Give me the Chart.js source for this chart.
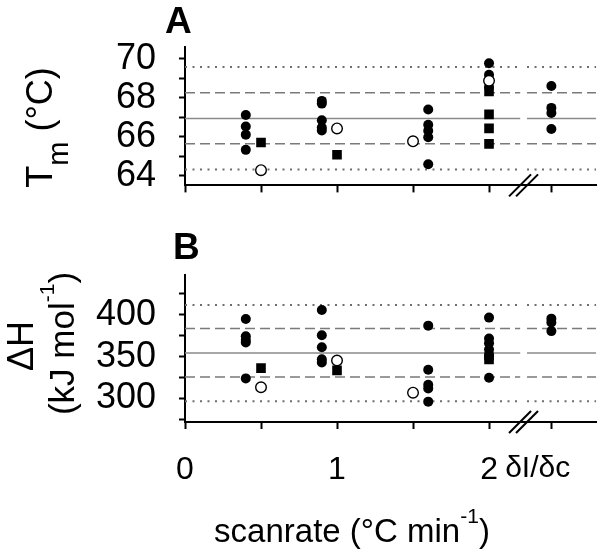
<!DOCTYPE html>
<html>
<head>
<meta charset="utf-8">
<script src="https://cdn.jsdelivr.net/npm/chart.js@4.4.1/dist/chart.umd.min.js"></script>
<style>
  html, body { margin: 0; padding: 0; background: #fff; }
  #wrap { position: relative; width: 603px; height: 549px; }
  canvas { position: absolute; left: 0; }
  #tm { top: 0; }
  #dh { top: 230px; }
</style>
</head>
<body>
<div id="wrap">
  <canvas id="tm" width="603" height="230"></canvas>
  <canvas id="dh" width="603" height="319"></canvas>
</div>
<script>
const FAM = '"Liberation Sans", Arial, Helvetica, sans-serif';

// scanrate axis: the dI/dc column sits behind the axis break
const DIDC = 2.41;
const DIDC_LABEL = 2.32;
const BREAK_AT = 2.227;
const LEFT_END = 2.205;
const RIGHT_START = 2.25;
const X_MAX = 2.705;

// panel A: Tm (°C)
const filledRateA = [0.4, 0.4, 0.4, 0.4, 0.9, 0.9, 0.9, 0.9, 0.9, 1.6, 1.6, 1.6, 1.6, 1.6, 2, 2, 2, DIDC, DIDC, DIDC, DIDC];
const filledTm    = [67.12, 66.53, 66.11, 65.33, 67.84, 67.70, 66.85, 66.47, 66.32, 67.40, 66.62, 66.31, 65.98, 64.59, 69.77, 69.18, 68.55, 68.60, 67.48, 67.22, 66.40];
const squareRateA = [0.5, 1.0, 2, 2, 2, 2];
const squareTm    = [65.71, 65.08, 68.32, 67.15, 66.43, 65.64];
const openRateA   = [0.5, 1.0, 1.5, 2];
const openTm      = [64.29, 66.43, 65.77, 68.87];
const tmRefs      = [69.58, 68.25, 66.94, 65.64, 64.33];

// panel B: dH (kJ/mol)
const filledRateB = [0.4, 0.4, 0.4, 0.4, 0.4, 0.9, 0.9, 0.9, 0.9, 0.9, 1.6, 1.6, 1.6, 1.6, 1.6, 2, 2, 2, 2, 2, 2, 2, DIDC, DIDC, DIDC];
const filledDh    = [395, 374.4, 369.9, 366.8, 324, 405.7, 375.5, 361.1, 346.9, 343.1, 387, 334.3, 316.5, 311.9, 296.2, 396.6, 371.7, 366, 358.4, 352.6, 348.5, 324.8, 395.4, 390.8, 380.5];
const squareRateB = [0.5, 1.0, 2];
const squareDh    = [336.3, 333.6, 346.5];
const openRateB   = [0.5, 1.0, 1.5];
const openDh      = [313.4, 345.4, 306.9];
const dhRefs      = [411.8, 383.5, 354.2, 325.6, 296.6];

// ticks
const xTicksA     = [0, 0.5, 1, 1.5, 2, DIDC];
const xTicksB     = [0, 0.5, 1, 1.5, 2, DIDC_LABEL, DIDC];
const xLabelsB    = ['0', '', '1', '', '2', 'δI/δc', ''];
const yTicksA     = [64, 65, 66, 67, 68, 69, 70];
const yTicksB     = [275, 300, 325, 350, 375, 400, 425];

const refStyles = [
  { dash: [2, 5.5], width: 2, color: '#6e6e6e' },
  { dash: [10, 5], width: 1.5, color: '#7a7a7a' },
  { dash: [], width: 1.5, color: '#8a8a8a' },
  { dash: [10, 5], width: 1.5, color: '#7a7a7a' },
  { dash: [2, 5.5], width: 2, color: '#6e6e6e' }
];

function pts(xs, ys) {
  return xs.map((x, i) => ({ x: x, y: ys[i] }));
}

function refDatasets(refs) {
  let out = [];
  refs.forEach((v, i) => {
    const st = refStyles[i];
    [[0, LEFT_END], [RIGHT_START, X_MAX]].forEach(seg => {
      out.push({
        data: [{ x: seg[0], y: v }, { x: seg[1], y: v }],
        showLine: true, pointRadius: 0, borderColor: st.color,
        borderWidth: st.width, borderDash: st.dash, order: 5
      });
    });
  });
  return out;
}

function markerDatasets(fx, fy, sx, sy, ox, oy) {
  return [
    { data: pts(ox, oy), pointStyle: 'circle', pointRadius: 5.3, pointBorderWidth: 1.4,
      pointBackgroundColor: '#fff', pointBorderColor: '#000', order: 1 },
    { data: pts(sx, sy), pointStyle: 'rect', pointRadius: 6.8, pointBorderWidth: 0,
      pointBackgroundColor: '#000', pointBorderColor: '#000', order: 2 },
    { data: pts(fx, fy), pointStyle: 'circle', pointRadius: 5, pointBorderWidth: 0,
      pointBackgroundColor: '#000', pointBorderColor: '#000', order: 3 }
  ];
}

function drawRich(ctx, parts, cx, cy, rotate) {
  ctx.save();
  ctx.translate(cx, cy);
  if (rotate) ctx.rotate(-Math.PI / 2);
  ctx.fillStyle = '#000';
  ctx.textBaseline = 'alphabetic';
  ctx.textAlign = 'left';
  let total = 0;
  parts.forEach(p => { ctx.font = p.font; total += ctx.measureText(p.t).width; });
  let x = -total / 2;
  parts.forEach(p => {
    ctx.font = p.font;
    ctx.fillText(p.t, x, p.dy || 0);
    x += ctx.measureText(p.t).width;
  });
  ctx.restore();
}

const decor = {
  id: 'decor',
  afterDraw(chart, args, opts) {
    const ctx = chart.ctx;
    const area = chart.chartArea;
    const cx = chart.scales.x.getPixelForValue(BREAK_AT);
    const cy = area.bottom;
    // axis break marks
    ctx.save();
    ctx.strokeStyle = '#000';
    ctx.lineWidth = 2;
    [-3.5, 3.5].forEach(off => {
      ctx.beginPath();
      ctx.moveTo(cx + off - 11, cy + 11);
      ctx.lineTo(cx + off + 11, cy - 11);
      ctx.stroke();
    });
    // panel letter
    ctx.fillStyle = '#000';
    ctx.font = 'bold 37px ' + FAM;
    ctx.textAlign = 'left';
    ctx.textBaseline = 'alphabetic';
    ctx.fillText(opts.letter, opts.letterX, opts.letterY);
    ctx.restore();
    (opts.texts || []).forEach(t => drawRich(ctx, t.parts, t.x, t.y, t.rotate));
  }
};

function makeChart(id, o) {
  return new Chart(document.getElementById(id), {
    type: 'scatter',
    data: { datasets: markerDatasets.apply(null, o.markers).concat(refDatasets(o.refs)) },
    options: {
      responsive: false,
      animation: false,
      devicePixelRatio: 1,
      layout: { padding: { top: o.padTop, left: 0, right: 0, bottom: 0 } },
      plugins: { legend: { display: false }, tooltip: { enabled: false }, decor: o.decor },
      scales: {
        x: {
          type: 'linear', min: 0, max: X_MAX,
          afterBuildTicks: s => { s.ticks = o.xTicks.map(v => ({ value: v })); },
          afterFit: s => { s.height = o.xHeight; },
          border: { display: true, color: '#000', width: 2 },
          grid: {
            drawOnChartArea: false, drawTicks: true, tickLength: 7, tickWidth: 2,
            tickColor: c => (c.tick && c.tick.value === DIDC_LABEL) ? 'rgba(0,0,0,0)' : '#000'
          },
          ticks: {
            autoSkip: false, maxRotation: 0, color: '#000', padding: 22,
            font: c => ({ family: FAM, size: (c.tick && c.tick.value === DIDC_LABEL) ? 30 : 32 }),
            callback: (v, i) => o.xLabels ? o.xLabels[i] : ''
          }
        },
        y: {
          type: 'linear', min: o.yMin, max: o.yMax,
          afterBuildTicks: s => { s.ticks = o.yTicks.map(v => ({ value: v })); },
          afterFit: s => { s.width = 185; },
          border: { display: true, color: '#000', width: 2 },
          grid: { drawOnChartArea: false, drawTicks: true, tickLength: 6, tickWidth: 2, tickColor: '#000' },
          ticks: {
            autoSkip: false, color: '#000', padding: 23,
            font: { family: FAM, size: 36 },
            callback: v => (v % o.yLabelStep === 0 ? String(v) : '')
          }
        }
      }
    },
    plugins: [decor]
  });
}

makeChart('tm', {
  markers: [filledRateA, filledTm, squareRateA, squareTm, openRateA, openTm],
  refs: tmRefs, xTicks: xTicksA, xLabels: null, xHeight: 25, padTop: 47,
  yMin: 63.51, yMax: 70.6, yTicks: yTicksA, yLabelStep: 2,
  decor: {
    letter: 'A', letterX: 165, letterY: 33,
    texts: [{
      rotate: true, x: 52, y: 127.5,
      parts: [
        { t: 'T', font: '36px ' + FAM },
        { t: 'm', font: '29px ' + FAM, dy: 16 },
        { t: ' (°C)', font: '36px ' + FAM }
      ]
    }]
  }
});

makeChart('dh', {
  markers: [filledRateB, filledDh, squareRateB, squareDh, openRateB, openDh],
  refs: dhRefs, xTicks: xTicksB, xLabels: xLabelsB, xHeight: 127, padTop: 38,
  yMin: 271.9, yMax: 448, yTicks: yTicksB, yLabelStep: 50,
  decor: {
    letter: 'B', letterX: 173, letterY: 29,
    texts: [
      { rotate: true, x: 33, y: 116, parts: [{ t: 'ΔH', font: '36px ' + FAM }] },
      {
        rotate: true, x: 74, y: 113.5,
        parts: [
          { t: '(kJ mol', font: '35px ' + FAM },
          { t: '-1', font: '21px ' + FAM, dy: -20 },
          { t: ')', font: '35px ' + FAM }
        ]
      },
      {
        rotate: false, x: 352, y: 312,
        parts: [
          { t: 'scanrate (°C min', font: '33px ' + FAM },
          { t: '-1', font: '21px ' + FAM, dy: -19 },
          { t: ')', font: '33px ' + FAM }
        ]
      }
    ]
  }
});
</script>
</body>
</html>
